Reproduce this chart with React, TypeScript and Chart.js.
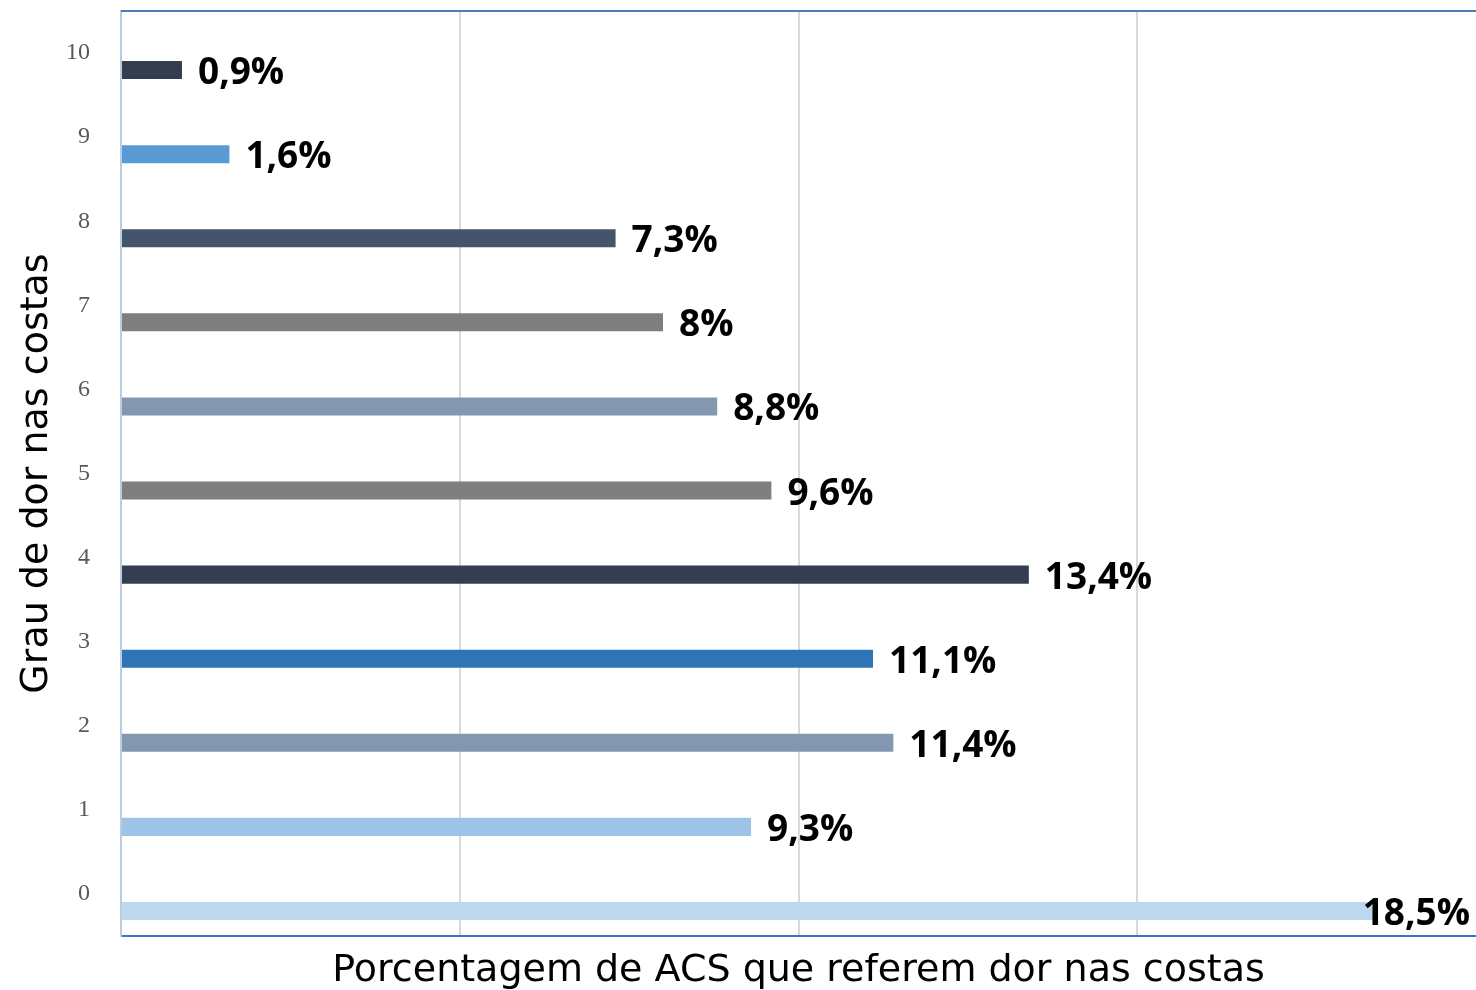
import React, { useEffect, useRef } from "react";
import { Chart, registerables } from "chart.js";

Chart.register(...registerables);

const categories: string[] = ["0", "1", "2", "3", "4", "5", "6", "7", "8", "9", "10"];
const values: number[] = [18.5, 9.3, 11.4, 11.1, 13.4, 9.6, 8.8, 8, 7.3, 1.6, 0.9];
const barColors: string[] = [
  "#bdd7ee",
  "#9dc3e6",
  "#8497b0",
  "#2e75b6",
  "#333f50",
  "#7f7f7f",
  "#8497b0",
  "#7f7f7f",
  "#44546a",
  "#5b9bd5",
  "#333f50",
];
const spacerValues: (number | null)[] = categories.map(() => null);
const xTitle = "Porcentagem de ACS que referem dor nas costas";
const yTitle = "Grau de dor nas costas";

const fmt = (v: number) => v.toString().replace(".", ",") + "%";

const labelPlugin = {
  id: "barLabels",
  afterDatasetsDraw(chart: any) {
    const ctx = chart.ctx;
    const meta = chart.getDatasetMeta(1);
    ctx.save();
    ctx.font = "bold 37px 'Open Sans'";
    ctx.fillStyle = "#000";
    ctx.textBaseline = "alphabetic";
    ctx.textAlign = "left";
    meta.data.forEach((bar: any, i: number) => {
      const txt = fmt(values[i]);
      const w = ctx.measureText(txt).width;
      let x = bar.x + 16;
      const maxRight = chart.width - 6;
      if (x + w > maxRight) x = maxRight - w;
      ctx.fillText(txt, x, bar.y + 14);
    });
    ctx.restore();
  },
};

const framePlugin = {
  id: "topFrame",
  afterDraw(chart: any) {
    const { ctx, chartArea } = chart;
    ctx.save();
    ctx.strokeStyle = "#4a7ebb";
    ctx.lineWidth = 2;
    ctx.beginPath();
    ctx.moveTo(chartArea.left, chartArea.top);
    ctx.lineTo(chart.width, chartArea.top);
    ctx.stroke();
    ctx.restore();
  },
};

export default function App() {
  const ref = useRef<HTMLCanvasElement>(null);
  useEffect(() => {
    if (!ref.current) return;
    const chart = new Chart(ref.current, {
      type: "bar",
      data: {
        labels: categories,
        datasets: [
          {
            data: spacerValues as any,
            backgroundColor: "rgba(0,0,0,0)",
            borderWidth: 0,
          },
          {
            data: values,
            backgroundColor: barColors,
            borderWidth: 0,
          },
        ],
      },
      plugins: [labelPlugin, framePlugin],
      options: {
        indexAxis: "y",
        responsive: false,
        animation: false,
        categoryPercentage: 0.81,
        barPercentage: 0.53,
        layout: { padding: { top: 11, right: 0, left: 0, bottom: 0 } },
        plugins: {
          legend: { display: false },
          tooltip: { enabled: false },
        },
        scales: {
          x: {
            min: 0,
            max: 20,
            ticks: { display: false, stepSize: 5 },
            grid: {
              drawTicks: false,
              lineWidth: 2,
              color: (c: any) =>
                c.tick && (c.tick.value === 0 || c.tick.value === 20) ? "rgba(0,0,0,0)" : "#d9d9d9",
            },
            border: { display: true, color: "#3a75c4", width: 2 },
            title: {
              display: true,
              text: xTitle,
              color: "#000",
              font: { family: "DejaVu Sans", size: 38, weight: "normal", lineHeight: 1.0 },
              padding: { top: 0, bottom: 0 },
            },
            afterFit: (s: any) => {
              s.height = 54;
              s.paddingLeft = 0;
              s.paddingRight = 0;
            },
          },
          y: {
            reverse: true,
            grid: { display: false, drawTicks: false },
            border: { display: true, color: "#b8cce4", width: 2 },
            ticks: {
              color: "#595959",
              font: { family: "Liberation Serif", size: 24 },
              padding: 31,
            },
            title: {
              display: true,
              text: yTitle,
              color: "#000",
              font: { family: "DejaVu Sans", size: 38, weight: "normal", lineHeight: 1.2 },
              padding: { top: 14, bottom: 0 },
            },
            afterFit: (s: any) => {
              s.width = 121;
              s.paddingTop = 0;
              s.paddingBottom = 0;
            },
          },
        },
      },
    } as any);
    return () => chart.destroy();
  }, []);
  return (
    <div style={{ position: "fixed", left: 0, top: 0, width: 1476, height: 990, background: "#fff" }}>
      <canvas ref={ref} width={1476} height={990} style={{ display: "block" }} />
    </div>
  );
}
